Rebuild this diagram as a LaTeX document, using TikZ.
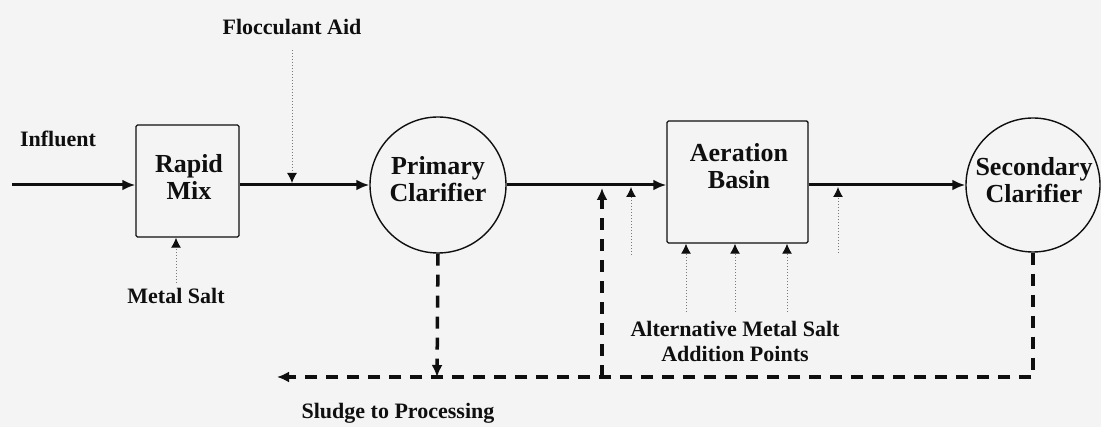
\documentclass[tikz,border=0pt]{standalone}
\usepackage{fontspec}
\setmainfont{Liberation Serif}
\usetikzlibrary{arrows.meta}
\definecolor{bg}{RGB}{244,244,244}
\definecolor{ink}{RGB}{15,15,15}
\definecolor{dotc}{RGB}{120,120,120}
\tikzset{
  unit/.style={draw=ink, line width=1.4pt, fill=none, inner sep=0pt},
  boxshape/.style={unit, rectangle, rounded corners=1.5pt},
  circshape/.style={unit, circle},
  title/.style={font=\bfseries\fontsize{26}{27}\selectfont, align=center, text=ink, inner sep=0pt},
  lbl/.style={font=\bfseries\fontsize{22}{25}\selectfont, align=center, text=ink, inner sep=0pt},
  flow/.style={draw=ink, line width=3pt, -{Latex[length=13pt,width=11pt]}},
  sludge/.style={draw=ink, line width=3.5pt, dash pattern=on 12pt off 9pt, -{Latex[length=12pt,width=11pt]}},
  feed/.style={draw=dotc, line width=1pt, dotted, -{Latex[length=10pt,width=10pt,color=ink]}},
}
\begin{document}
\begin{tikzpicture}[x=1pt,y=-1pt]
\fill[bg] (0,0) rectangle (1101,427);
\useasboundingbox (0,0) rectangle (1101,427);

% units
\node[boxshape, minimum width=103pt, minimum height=112pt] (rm) at (187.5,181) {};
\node[title] (rmt) at (189,177) {Rapid\\Mix};
\node[circshape, minimum size=136pt] (pc) at (438,185) {};
\node[title] (pct) at (438,179) {Primary\\Clarifier};
\node[boxshape, minimum width=141pt, minimum height=122pt] (ab) at (737.5,182) {};
\node[title] (abt) at (739,166) {Aeration\\Basin};
\node[circshape, minimum size=134pt] (sc) at (1033,185) {};
\node[title] (sct) at (1034,180) {Secondary\\Clarifier};

% labels
\node[lbl] (inf) at (58,139) {Influent};
\node[lbl] (fa) at (292,27) {Flocculant Aid};
\node[lbl] (ms) at (176,296) {Metal Salt};
\node[lbl] (alt) at (735,341) {Alternative Metal Salt\\Addition Points};
\node[lbl] (sp) at (398,413) {Sludge to Processing};

% main flow
\coordinate (in0) at (12,185);
\draw[flow] (in0) -- (in0 -| rm.west);
\draw[flow] (rm.east |- pc.west) -- (pc.west);
\draw[flow] (pc.east) -- (pc.east -| ab.west);
\draw[flow] (ab.east |- sc.west) -- (sc.west);

% chemical feeds
\coordinate (faTop) at (292,50);
\coordinate (faEnd) at (292,183);
\draw[feed] (faTop) -- (faEnd);
\coordinate (msTop) at (176,283);
\draw[feed] (msTop) -- (msTop |- rm.south);
\coordinate (f1) at (631,255);
\coordinate (f1e) at (631,187);
\draw[feed] (f1) -- (f1e);
\coordinate (f2) at (838,253);
\coordinate (f2e) at (838,187);
\draw[feed] (f2) -- (f2e);
\foreach \x/\n in {686/a,735/b,787/c}{
  \coordinate (g\n) at (\x,312);
  \draw[feed] (g\n) -- (g\n |- ab.south);
}

% sludge lines
\coordinate (sEnd) at (277,377);
\coordinate (rBot) at (602,377);
\coordinate (rTop) at (602,188);
\coordinate (pBot) at (437,377);
\draw[sludge] (sc.south) |- (sEnd);
\draw[sludge] (pc.south) -- (pBot);
\draw[sludge] (rBot) -- (rTop);
\end{tikzpicture}
\end{document}
